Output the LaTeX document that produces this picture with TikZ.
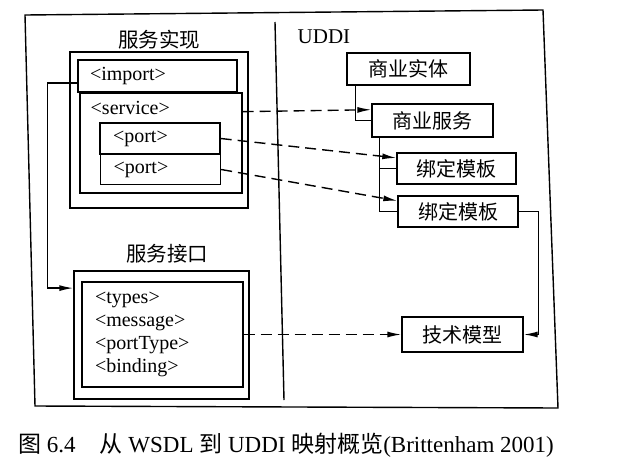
\documentclass[tikz,border=0pt]{standalone}
\usepackage{fontspec}
\setmainfont{Liberation Serif}
\newfontfamily\cjk{Noto Sans CJK SC}
\usetikzlibrary{arrows.meta}

\tikzset{
  box/.style = {draw, inner sep=0pt},
  tagbox/.style = {box, align=left},
  cnbox/.style = {box, font=\cjk\fontsize{20}{24}\selectfont},
  cntitle/.style = {inner sep=0pt, font=\cjk\fontsize{20.5}{24}\selectfont},
  tag/.style = {inner sep=0pt, anchor=west},
  link/.style = {->, dash pattern=on 11pt off 6pt},
}

\begin{document}
\begin{tikzpicture}[x=1pt, y=-1pt, line width=1.4pt,
    font=\fontsize{20}{23}\selectfont,
    >={Latex[length=14pt, width=6pt]}]
        \useasboundingbox (0,0) rectangle (621,464);

        \draw (25,15) -- (543,10) -- (558,408) -- (35,406) -- cycle;
        \draw (275,22) -- (284,400);

        % WSDL side
        \node[cntitle] (impltitle) at (159,40) {服务实现};
        \node[box, minimum width=178, minimum height=156] (impl) at (159,130) {};
        \node[tagbox, minimum width=159, minimum height=32, text width=135] (import) at (157.5,76) {<import>};
        \node[box, minimum width=162, minimum height=100] (service) at (161,143) {};
        \node[tag] (servicetag) at (90,108) {<service>};
        \node[tagbox, minimum width=120, minimum height=31, text width=94] (port1) at (160,138.5) {<port>};
        \node[tagbox, minimum width=120, minimum height=30, text width=94] (port2) at (160.5,169.5) {<port>};

        \node[cntitle] (ifacetitle) at (167,254) {服务接口};
        \node[box, minimum width=175, minimum height=128] (iface) at (161.5,335) {};
        \node[tagbox, minimum width=161, minimum height=105, text width=135] (ifacebody) at (162.5,334.5)
            {<types>\\<message>\\<portType>\\<binding>};

        % UDDI side
        \node[tag, font=\fontsize{21}{25}\selectfont] (uddi) at (297,37) {UDDI};
        \node[cnbox, minimum width=123, minimum height=32] (entity) at (408.5,69) {商业实体};
        \node[cnbox, minimum width=121, minimum height=33] (bservice) at (432.5,120.5) {商业服务};
        \node[cnbox, minimum width=119, minimum height=31] (bind1) at (456.5,168.5) {绑定模板};
        \node[cnbox, minimum width=120, minimum height=31] (bind2) at (458,211.5) {绑定模板};
        \node[cnbox, minimum width=121, minimum height=35] (tmodel) at (462.5,334.5) {技术模型};

        \draw ([xshift=9pt]entity.south west) |- (bservice.west);
        \draw ([xshift=8pt]bservice.south west) |- (bind1.west);
        \draw ([xshift=8pt]bservice.south west) |- (bind2.west);

        \draw[link] (service.21) -- (bservice.170);
        \draw[link] (port1.east) -- (bind1.170);
        \draw[link] (port2.east) -- (bind2.170);
        \draw[link] (ifacebody.east) -- (tmodel.west);

        \draw[->] (bind2.east) -- ++(20,0) |- (tmodel.east);
        \draw[->] (import.185) -- ++(-30,0) |- (iface.152);

        \node[font=\fontsize{23}{27}\selectfont] (caption) at (286,445)
            {{\cjk 图} 6.4\hspace{24pt}{\cjk 从} WSDL {\cjk 到} UDDI {\cjk 映射概览}(Brittenham 2001)};
    \end{tikzpicture}
\end{document}
